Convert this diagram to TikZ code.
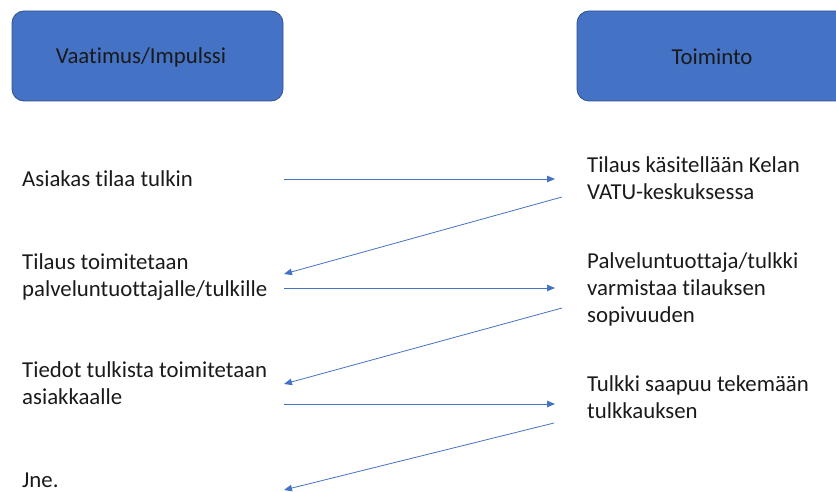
\documentclass[tikz,border=0pt]{standalone}
\usepackage{fontspec}
\setmainfont[Ligatures={NoCommon}]{Carlito}
\usetikzlibrary{arrows.meta}
\definecolor{boxfill}{HTML}{4472C4}
\definecolor{boxline}{HTML}{2F528F}
\definecolor{arrowblue}{HTML}{4472C4}
\definecolor{textdark}{HTML}{1A1A1A}
\begin{document}
\begin{tikzpicture}[x=1pt,y=-1pt,
  header/.style={draw=boxline, line width=0.8pt, fill=boxfill, rounded corners=12pt},
  headtext/.style={font=\fontsize{22.8}{27}\selectfont, text=textdark, inner sep=0pt},
  label/.style={font=\fontsize{22.8}{27}\selectfont, text=textdark, align=left, anchor=base west, inner sep=0pt},
  link/.style={draw=arrowblue, line width=0.8pt, -{Triangle[length=8pt,width=6.5pt]}}]
  \useasboundingbox (0,0) rectangle (836,492);
  \begin{scope}
    \clip (0,0) rectangle (836,492);
    % column headers
    \draw[header] (12,11) rectangle (283,101);
    \draw[header] (577,11) rectangle (847,101);
  \end{scope}
  \node[headtext] (hleft) at (141,57) {Vaatimus/Impulssi};
  \node[headtext] (hright) at (712,57) {Toiminto};

  % left column (anchor = baseline of the last line)
  \node[label] (l1) at (22,186) {Asiakas tilaa tulkin};
  \node[label] (l2) at (22,296) {Tilaus toimitetaan\\palveluntuottajalle/tulkille};
  \node[label] (l3) at (22,404) {Tiedot tulkista toimitetaan\\asiakkaalle};
  \node[label] (l4) at (22,487) {Jne.};

  % right column
  \node[label] (r1) at (587,200) {Tilaus käsitellään Kelan\\VATU-keskuksessa};
  \node[label] (r2) at (587,322) {Palveluntuottaja/tulkki\\varmistaa tilauksen\\sopivuuden};
  \node[label] (r3) at (587,418) {Tulkki saapuu tekemään\\tulkkauksen};

  % arrow end points
  \coordinate (a1s) at (284,179);  \coordinate (a1e) at (555,179);
  \coordinate (a2s) at (562,197);  \coordinate (a2e) at (284,274);
  \coordinate (a3s) at (284,288);  \coordinate (a3e) at (555,288);
  \coordinate (a4s) at (562,308);  \coordinate (a4e) at (284,384);
  \coordinate (a5s) at (284,404);  \coordinate (a5e) at (555,404);
  \coordinate (a6s) at (554,423);  \coordinate (a6e) at (284,490);

  \draw[link] (a1s) -- (a1e);
  \draw[link] (a2s) -- (a2e);
  \draw[link] (a3s) -- (a3e);
  \draw[link] (a4s) -- (a4e);
  \draw[link] (a5s) -- (a5e);
  \draw[link] (a6s) -- (a6e);
\end{tikzpicture}
\end{document}
